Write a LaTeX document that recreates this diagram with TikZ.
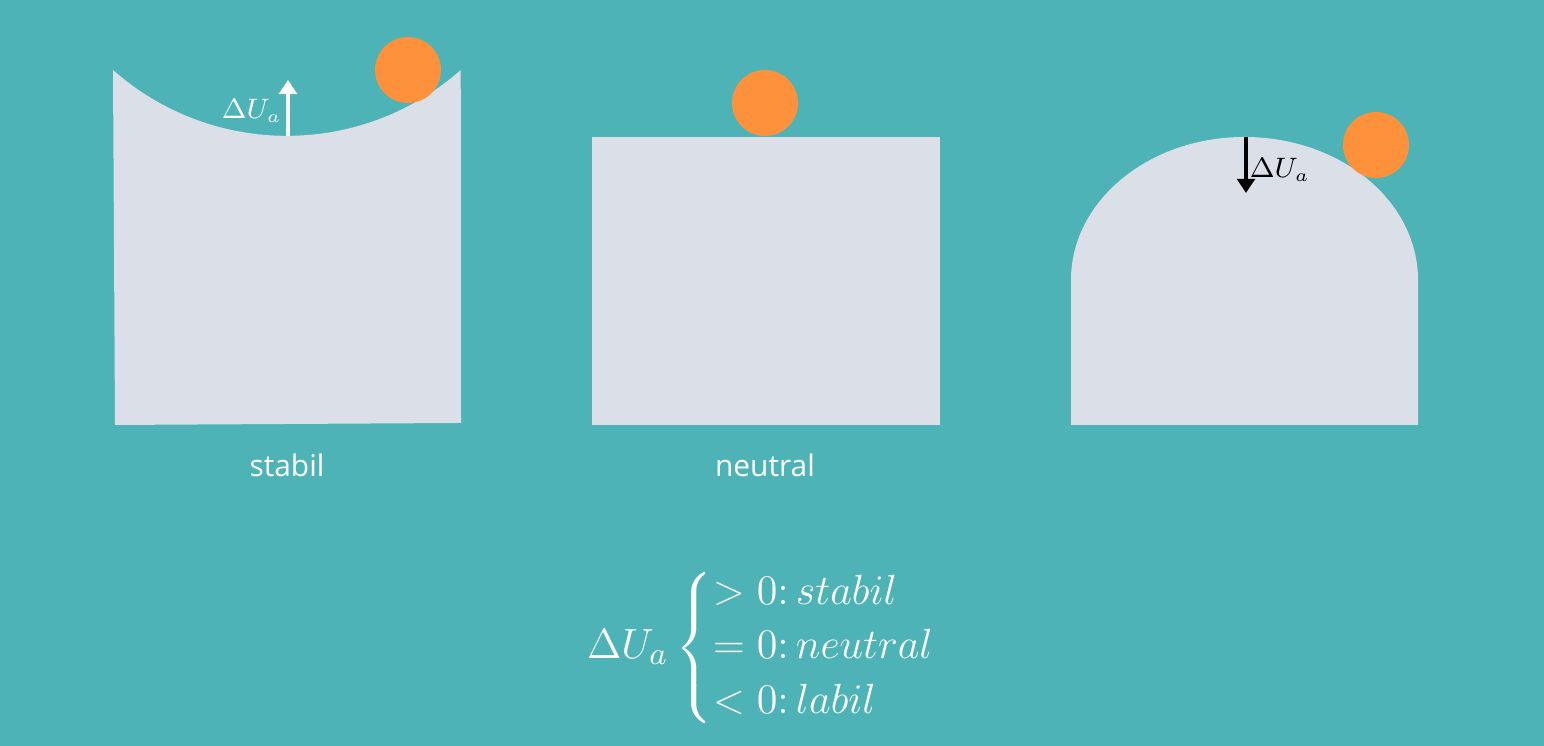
\documentclass[tikz,border=0pt]{standalone}
\usepackage{amsmath}
\usepackage{fontspec}
\usepackage{tikz}
\usetikzlibrary{positioning, arrows.meta}
\newfontfamily\labelfont{Open Sans}
\definecolor{bgteal}{HTML}{4EB3B6}
\definecolor{body}{HTML}{DBDFE7}
\definecolor{ball}{HTML}{FD913C}

\begin{document}
\begin{tikzpicture}[
		ballstyle/.style={circle, fill=ball, minimum size=0.66cm, inner sep=0pt},
		caption/.style={text=white, font=\labelfont\fontsize{8.5}{10}\selectfont},
		deltaarrow/.style={line width=1.4pt, -{Triangle[length=4pt, width=5pt]}}
	]
					\fill[bgteal] (0, 0) rectangle (15.44, 7.46);
					\useasboundingbox (0, 0) rectangle (15.44, 7.46);
					
					% stabil
					\fill[body] (1.15, 3.21) -- (1.13, 6.76) arc[start angle=228.5, end angle=311.5, radius=2.624] -- (4.61, 3.23) -- cycle;
					\node[ballstyle] at (4.08, 6.76) (ballS) {};
					\coordinate (bottomS) at (2.88, 6.10);
					\coordinate (tipS) at (2.88, 6.66);
					\draw[deltaarrow, white] (bottomS) -- (tipS);
					\node[text=white, font=\fontsize{7.6}{9}\selectfont] at (2.52, 6.35) (dS) {$\Delta U_a$};
					\node[caption] at (2.87, 2.81) (stabil) {stabil};
					
					% neutral
					\fill[body] (5.92, 3.21) rectangle (9.40, 6.09);
					\node[ballstyle] at (7.65, 6.43) (ballN) {};
					\node[caption] at (7.65, 2.81) (neutral) {neutral};
					
					% labil
					\fill[body] (10.71, 3.21) -- (10.71, 4.66) arc[start angle=180, end angle=0, x radius=1.735, y radius=1.43] -- (14.18, 3.21) -- cycle;
					\node[ballstyle] at (13.76, 6.01) (ballL) {};
					\coordinate (topL) at (12.46, 6.09);
					\coordinate (tipL) at (12.46, 5.53);
					\draw[deltaarrow, black] (topL) -- (tipL);
					\node[font=\fontsize{7.6}{9}\selectfont] at (12.80, 5.76) (dL) {$\Delta U_a$};
					
					% formula
					\node[text=white, font=\fontsize{12.5}{13}\selectfont] at (7.84, 0.98) (cases) {$\Delta U_a \begin{cases} > 0{:}\, stabil\\ = 0{:}\, neutral\\ < 0{:}\, labil \end{cases}$};
				\end{tikzpicture}
\end{document}
